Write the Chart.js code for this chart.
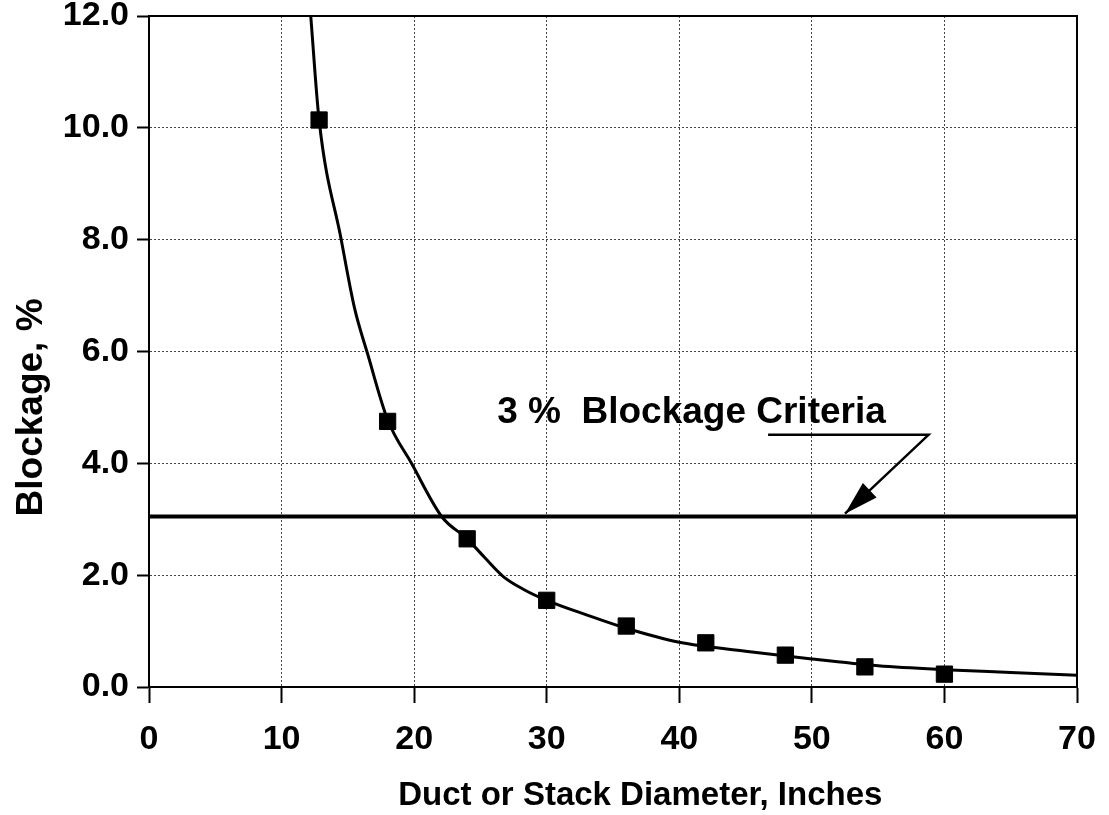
<!DOCTYPE html>
<html>
<head>
<meta charset="utf-8">
<script src="https://cdn.jsdelivr.net/npm/chart.js@4/dist/chart.umd.min.js"></script>
<style>
  html, body { margin: 0; padding: 0; background: #fff; }
  #wrap { width: 1109px; height: 815px; }
</style>
</head>
<body>
<div id="wrap"><canvas id="c" width="1109" height="815"></canvas></div>
<script>
// fitted curve (diameter in inches, blockage in %)
var curveX = [12.2, 12.83, 14.5, 15.5, 16.5, 18, 19.8, 22.1, 24, 25.3, 26.7, 28.3, 30, 33, 36, 40, 45, 50, 55, 60, 65, 70];
var curveY = [12.0, 10.14, 8.0, 6.78, 5.95, 4.78, 4.0, 3.04, 2.65, 2.32, 1.98, 1.74, 1.55, 1.29, 1.05, 0.8, 0.64, 0.5, 0.38, 0.31, 0.26, 0.21];

// measured points
var pointX = [12.83, 18, 24, 30, 36, 42, 48, 54, 60];
var pointY = [10.14, 4.75, 2.65, 1.55, 1.09, 0.79, 0.57, 0.36, 0.23];

// 3 % criteria line
var criteriaX = [0, 70];
var criteriaY = [3.05, 3.05];

var xTicks = [0, 10, 20, 30, 40, 50, 60, 70];
var yTicks = [0, 2, 4, 6, 8, 10, 12];

var FONT = "'Liberation Sans', Arial, sans-serif";

function zip(xs, ys) {
    return xs.map(function (x, i) { return { x: x, y: ys[i] }; });
}

// annotation text + arrow, anchored in data units
var note = {
    text: "3 %  Blockage Criteria",
    at: { x: 26.26, y: 4.73 },
    lineFrom: { x: 46.7, y: 4.51 },
    lineTo: { x: 58.8, y: 4.51 },
    tip: { x: 52.5, y: 3.1 }
};

var decor = {
    id: "decor",
    afterDraw: function (chart) {
        var ctx = chart.ctx, a = chart.chartArea;
        var xs = chart.scales.x, ys = chart.scales.y;
        ctx.save();

        // frame round the plot
        ctx.strokeStyle = "#000";
        ctx.lineWidth = 2;
        ctx.strokeRect(a.left, a.top, a.right - a.left, a.bottom - a.top);

        // criteria label
        ctx.fillStyle = "#000";
        ctx.font = "bold 37px " + FONT;
        ctx.textAlign = "left";
        ctx.textBaseline = "alphabetic";
        ctx.fillText(note.text, xs.getPixelForValue(note.at.x), ys.getPixelForValue(note.at.y));

        // leader line and arrow
        var x0 = xs.getPixelForValue(note.lineFrom.x), y0 = ys.getPixelForValue(note.lineFrom.y);
        var x1 = xs.getPixelForValue(note.lineTo.x), y1 = ys.getPixelForValue(note.lineTo.y);
        var tx = xs.getPixelForValue(note.tip.x), ty = ys.getPixelForValue(note.tip.y);
        ctx.lineWidth = 2.5;
        ctx.beginPath();
        ctx.moveTo(x0, y0);
        ctx.lineTo(x1, y1);
        ctx.lineTo(tx, ty);
        ctx.stroke();

        var ang = Math.atan2(ty - y1, tx - x1);
        var len = 34, half = 10;
        var bx = tx - len * Math.cos(ang), by = ty - len * Math.sin(ang);
        ctx.beginPath();
        ctx.moveTo(tx, ty);
        ctx.lineTo(bx + half * Math.sin(ang), by - half * Math.cos(ang));
        ctx.lineTo(bx - half * Math.sin(ang), by + half * Math.cos(ang));
        ctx.closePath();
        ctx.fill();

        // axis titles
        ctx.font = "bold 33px " + FONT;
        ctx.textAlign = "center";
        ctx.fillText("Duct or Stack Diameter, Inches", xs.getPixelForValue(37.06), 805);

        ctx.font = "bold 37px " + FONT;
        ctx.translate(42, ys.getPixelForValue(5.0));
        ctx.rotate(-Math.PI / 2);
        ctx.fillText("Blockage, %", 0, 0);

        ctx.restore();
    }
};

new Chart(document.getElementById("c").getContext("2d"), {
    type: "scatter",
    data: {
        datasets: [{
            data: zip(curveX, curveY),
            showLine: true,
            borderColor: "#000",
            borderWidth: 3,
            pointRadius: 0,
            cubicInterpolationMode: "monotone"
        }, {
            data: zip(pointX, pointY),
            pointStyle: "rect",
            pointRadius: 11.5,
            backgroundColor: "#000",
            borderColor: "#000",
            borderWidth: 1
        }, {
            data: zip(criteriaX, criteriaY),
            showLine: true,
            borderColor: "#000",
            borderWidth: 4,
            pointRadius: 0
        }]
    },
    options: {
        responsive: false,
        animation: false,
        layout: { padding: { top: 16, right: 32, left: 0, bottom: 0 } },
        plugins: {
            legend: { display: false },
            tooltip: { enabled: false }
        },
        scales: {
            x: {
                type: "linear",
                min: 0,
                max: 70,
                afterBuildTicks: function (s) { s.ticks = xTicks.map(function (v) { return { value: v }; }); },
                afterFit: function (s) { s.height = 128; s.paddingLeft = 0; s.paddingRight = 0; },
                ticks: {
                    color: "#000",
                    padding: 16,
                    font: { family: FONT, size: 34, weight: "bold" }
                },
                grid: { color: "#444", lineWidth: 1, tickLength: 16, tickColor: "#000", tickWidth: 2, tickBorderDash: [] },
                border: { display: true, color: "#000", width: 2, dash: [2, 2] }
            },
            y: {
                min: 0,
                max: 12,
                afterBuildTicks: function (s) { s.ticks = yTicks.map(function (v) { return { value: v }; }); },
                afterFit: function (s) { s.width = 149; s.paddingTop = 0; s.paddingBottom = 0; },
                ticks: {
                    color: "#000",
                    padding: 8,
                    font: { family: FONT, size: 34, weight: "bold" },
                    callback: function (v) { return v.toFixed(1); }
                },
                grid: { color: "#444", lineWidth: 1, tickLength: 12, tickColor: "#000", tickWidth: 2, tickBorderDash: [] },
                border: { display: true, color: "#000", width: 2, dash: [2, 2] }
            }
        }
    },
    plugins: [decor]
});
</script>
</body>
</html>
